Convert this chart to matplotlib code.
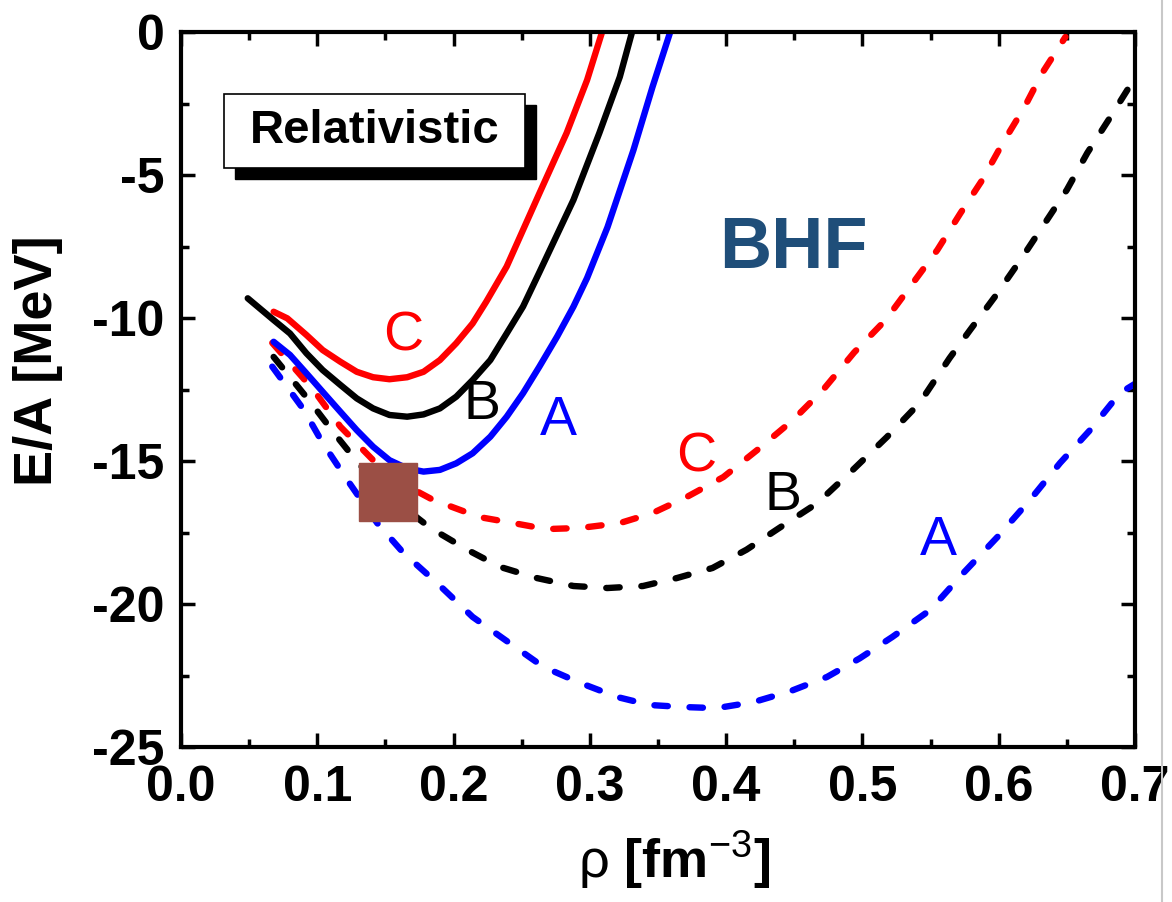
import numpy as np
import matplotlib
matplotlib.use('Agg')
import matplotlib.pyplot as plt
from matplotlib.patches import Rectangle
from matplotlib.lines import Line2D
from matplotlib.ticker import MultipleLocator

plt.rcParams['font.family'] = ['Liberation Sans', 'DejaVu Sans']
plt.rcParams['mathtext.fontset'] = 'custom'
plt.rcParams['mathtext.rm'] = 'Liberation Sans'
plt.rcParams['mathtext.it'] = 'Liberation Sans:italic'
plt.rcParams['mathtext.bf'] = 'Liberation Sans:bold'
plt.rcParams['axes.unicode_minus'] = False

# relativistic (solid) curves
rho_rel_A = [0.068, 0.080, 0.092, 0.104, 0.117, 0.129, 0.141, 0.153, 0.166, 0.178, 0.190, 0.202, 0.214,
             0.227, 0.239, 0.251, 0.263, 0.276, 0.288, 0.298, 0.313, 0.332, 0.346, 0.359]
ea_rel_A = [-10.83, -11.29, -11.93, -12.58, -13.28, -13.92, -14.50, -14.97, -15.26, -15.37, -15.31, -15.08, -14.73,
            -14.15, -13.45, -12.63, -11.70, -10.65, -9.60, -8.6, -6.82, -4.13, -1.92, 0.0]

rho_rel_B = [0.049, 0.068, 0.080, 0.092, 0.104, 0.117, 0.129, 0.141, 0.153, 0.166, 0.178, 0.190, 0.202, 0.214,
             0.227, 0.239, 0.251, 0.263, 0.288, 0.307, 0.322, 0.331]
ea_rel_B = [-9.31, -10.07, -10.54, -11.23, -11.82, -12.34, -12.81, -13.16, -13.39, -13.45, -13.37, -13.16, -12.75, -12.17,
            -11.47, -10.54, -9.60, -8.4, -5.87, -3.53, -1.57, 0.0]

rho_rel_C = [0.068, 0.078, 0.092, 0.104, 0.117, 0.129, 0.141, 0.153, 0.166, 0.178, 0.190, 0.202, 0.214,
             0.224, 0.239, 0.263, 0.283, 0.298, 0.309]
ea_rel_C = [-9.78, -10.01, -10.59, -11.12, -11.53, -11.88, -12.07, -12.14, -12.07, -11.88, -11.47, -10.88, -10.19,
            -9.43, -8.2, -5.64, -3.53, -1.68, 0.0]

# BHF (dashed) curves
rho_bhf_A = [0.067, 0.090, 0.104, 0.122, 0.144, 0.163, 0.188, 0.214, 0.241, 0.266, 0.293, 0.320, 0.344,
             0.368, 0.393, 0.420, 0.447, 0.474, 0.498, 0.522, 0.550, 0.574, 0.599, 0.623, 0.645, 0.667, 0.689, 0.700]
ea_bhf_A = [-11.7, -13.2, -14.37, -15.66, -17.17, -18.2, -19.27, -20.45, -21.36, -22.2, -22.76, -23.25, -23.53,
            -23.6, -23.64, -23.43, -23.05, -22.55, -21.9, -21.15, -20.2, -18.92, -17.66, -16.36, -15.07, -13.92, -12.62, -12.3]

rho_bhf_B = [0.068, 0.095, 0.112, 0.130, 0.155, 0.183, 0.210, 0.234, 0.261, 0.288, 0.313, 0.339, 0.364, 0.390,
             0.415, 0.439, 0.467, 0.493, 0.518, 0.542, 0.564, 0.579, 0.597, 0.616, 0.632, 0.650, 0.665, 0.682, 0.700]
ea_bhf_B = [-11.36, -12.94, -14.0, -15.07, -16.3, -17.34, -18.1, -18.7, -19.09, -19.37, -19.44, -19.37, -19.09, -18.74,
            -18.1, -17.34, -16.47, -15.31, -14.16, -12.97, -11.4, -10.42, -9.27, -7.97, -6.82, -5.52, -4.23, -2.97, -1.6]

rho_bhf_C = [0.067, 0.097, 0.117, 0.141, 0.163, 0.185, 0.219, 0.244, 0.268, 0.293, 0.322, 0.346, 0.371, 0.398,
             0.424, 0.449, 0.471, 0.494, 0.517, 0.537, 0.555, 0.572, 0.588, 0.603, 0.619, 0.632, 0.649]
ea_bhf_C = [-10.87, -12.5, -13.8, -14.97, -15.8, -16.36, -16.96, -17.17, -17.38, -17.34, -17.17, -16.82, -16.26, -15.56,
            -14.57, -13.57, -12.52, -11.2, -10.07, -8.78, -7.62, -6.33, -5.17, -3.88, -2.62, -1.43, -0.17]

# empirical saturation point
sat_rho = [0.152]
sat_ea = [-16.1]

# curve labels: (text, x, y, colour)
lab_txt = ['C', 'B', 'A', 'C', 'B', 'A']
lab_x = [0.163, 0.221, 0.277, 0.378, 0.442, 0.556]
lab_y = [-10.63, -13.04, -13.6, -14.86, -16.22, -17.8]
lab_col = ['#ff0000', 'black', '#0000ff', '#ff0000', 'black', '#0000ff']

fig = plt.figure(figsize=(11.72, 9.02), dpi=100)
ax = fig.add_axes([0.1544, 0.1718, 0.8140, 0.7927])

lw = 4.6
ax.plot(rho_bhf_A, ea_bhf_A, color='#0000ff', lw=lw, ls=(0, (2.1, 3.4)), dash_capstyle='round')
ax.plot(rho_bhf_B, ea_bhf_B, color='black', lw=lw, ls=(0, (2.1, 3.4)), dash_capstyle='round')
ax.plot(rho_bhf_C, ea_bhf_C, color='#ff0000', lw=lw, ls=(0, (2.1, 3.4)), dash_capstyle='round')
ax.plot(rho_rel_A, ea_rel_A, color='#0000ff', lw=lw, solid_capstyle='round', solid_joinstyle='round')
ax.plot(rho_rel_B, ea_rel_B, color='black', lw=lw, solid_capstyle='round', solid_joinstyle='round')
ax.plot(rho_rel_C, ea_rel_C, color='#ff0000', lw=lw, solid_capstyle='round', solid_joinstyle='round')

ax.plot(sat_rho, sat_ea, marker='s', ms=42, color='#9b4f45', ls='none', zorder=10)

for t, x, y, c in zip(lab_txt, lab_x, lab_y, lab_col):
    ax.text(x, y, t, color=c, fontsize=40, fontweight='normal', ha='center', va='center')

ax.text(0.449, -7.6, 'BHF', color='#1f4e79', fontsize=52, fontweight='bold', ha='center', va='center')

# "Relativistic" box with drop shadow
ax.add_patch(Rectangle((0.057, 0.795), 0.3155, 0.103, transform=ax.transAxes,
                       facecolor='black', edgecolor='black', zorder=4))
ax.add_patch(Rectangle((0.045, 0.810), 0.3155, 0.103, transform=ax.transAxes,
                       facecolor='white', edgecolor='black', lw=1.2, zorder=5))
ax.text(0.203, 0.861, 'Relativistic', transform=ax.transAxes, fontsize=34,
        fontweight='bold', ha='center', va='center', zorder=6)

ax.set_xlim(0.0, 0.7)
ax.set_ylim(-25, 0)
ax.xaxis.set_major_locator(MultipleLocator(0.1))
ax.xaxis.set_minor_locator(MultipleLocator(0.05))
ax.yaxis.set_major_locator(MultipleLocator(5))
ax.yaxis.set_minor_locator(MultipleLocator(2.5))
ax.set_xticklabels([f'{v:.1f}' for v in ax.get_xticks()])

ax.tick_params(which='both', direction='in', top=True, right=True, width=2.5)
ax.tick_params(which='major', length=10, labelsize=36)
ax.tick_params(axis='x', which='major', pad=13)
ax.tick_params(axis='y', which='major', pad=12)
ax.tick_params(which='minor', length=6)
for lab in ax.get_xticklabels() + ax.get_yticklabels():
    lab.set_fontweight('bold')
for sp in ax.spines.values():
    sp.set_linewidth(3)

ax.set_ylabel('E/A [MeV]', fontsize=39, fontweight='bold')
ax.yaxis.set_label_coords(-0.124, 0.541)
ax.set_xlabel(r'$\mathrm{\rho}$ [fm$^{\mathrm{-3}}$]', fontsize=39, fontweight='bold')
ax.xaxis.set_label_coords(0.517, -0.115)

fig.add_artist(Line2D([0.9915, 0.9915], [0.0, 1.0], transform=fig.transFigure, color='#c8c8c8', lw=1.5))

fig.savefig('out.png', dpi=100)
